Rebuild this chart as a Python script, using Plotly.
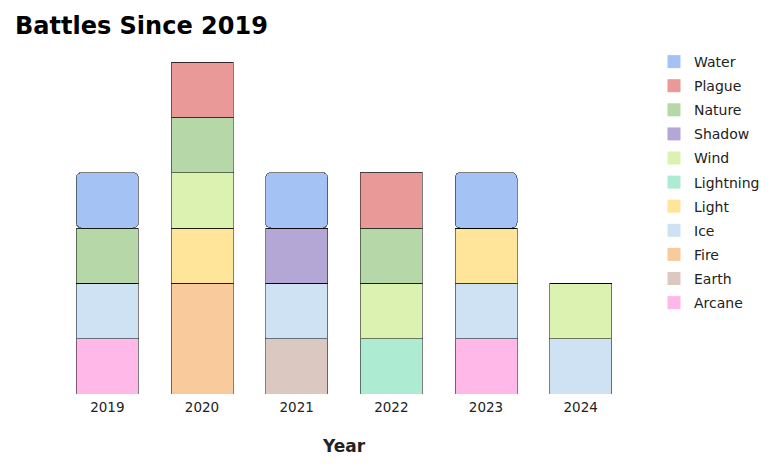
import plotly.graph_objects as go

years = ["2019", "2020", "2021", "2022", "2023", "2024"]

# bottom to top in the stack
elements = ["Arcane", "Earth", "Fire", "Ice", "Light", "Lightning",
            "Wind", "Shadow", "Nature", "Plague", "Water"]

battles = {
    "Arcane":    [1, 0, 0, 0, 1, 0],
    "Earth":     [0, 0, 1, 0, 0, 0],
    "Fire":      [0, 2, 0, 0, 0, 0],
    "Ice":       [1, 0, 1, 0, 1, 1],
    "Light":     [0, 1, 0, 0, 1, 0],
    "Lightning": [0, 0, 0, 1, 0, 0],
    "Wind":      [0, 1, 0, 1, 0, 1],
    "Shadow":    [0, 0, 1, 0, 0, 0],
    "Nature":    [1, 1, 0, 1, 0, 0],
    "Plague":    [0, 1, 0, 1, 0, 0],
    "Water":     [1, 0, 1, 0, 1, 0],
}

colors = {
    "Arcane": "#ffb8e8",
    "Earth": "#dbc8c0",
    "Fire": "#f9cb9c",
    "Ice": "#cfe2f3",
    "Light": "#ffe599",
    "Lightning": "#aeebd3",
    "Wind": "#dbf2b0",
    "Shadow": "#b4a7d6",
    "Nature": "#b6d7a8",
    "Plague": "#ea9999",
    "Water": "#a4c2f4",
}

font = "Verdana, DejaVu Sans, sans-serif"

fig = go.Figure()

# legend swatches (top of stack first)
for name in reversed(elements):
    fig.add_trace(go.Scatter(
        x=[None],
        y=[None],
        mode="markers",
        name=name,
        legendgroup=name,
        marker=dict(symbol="square", size=13, color=colors[name]),
    ))

# stacked bars; the top series sits on the others with rounded top corners
below = [0] * len(years)
for name in elements:
    marker = dict(color=colors[name], line=dict(color="rgba(0,0,0,0.5)", width=1))
    bar = dict(x=years, y=battles[name], name=name, legendgroup=name,
               showlegend=False, marker=marker)
    if name == elements[-1]:
        marker["cornerradius"] = 5
        bar["base"] = below
    else:
        below = [b + v for b, v in zip(below, battles[name])]
    fig.add_trace(go.Bar(**bar))

fig.update_layout(
    barmode="stack",
    bargap=0.345,
    width=774,
    height=470,
    margin=dict(l=52, r=154, t=54, b=84),
    paper_bgcolor="white",
    plot_bgcolor="white",
    font=dict(family=font, size=13, color="#222"),
    title=dict(
        text="<b>Battles Since 2019</b>",
        x=7 / 774, xanchor="left",
        y=1 - 18 / 470, yanchor="middle",
        font=dict(family=font, size=24, color="black"),
    ),
    legend=dict(
        traceorder="grouped",
        xref="container", x=646 / 774, xanchor="left",
        yref="container", y=1 - 38 / 470, yanchor="top",
        font=dict(family=font, size=14, color="#222"),
        tracegroupgap=2.9,
        maxheight=440,
    ),
    xaxis=dict(
        title=dict(text="<b>Year</b>", font=dict(family=font, size=17, color="#222"),
                   standoff=26),
        showgrid=False,
        showline=False,
        ticks="",
        ticklabelstandoff=3,
        tickfont=dict(size=13.5, color="#222"),
    ),
    yaxis=dict(
        range=[0, 6],
        visible=False,
    ),
)

fig.write_html("out.html")
